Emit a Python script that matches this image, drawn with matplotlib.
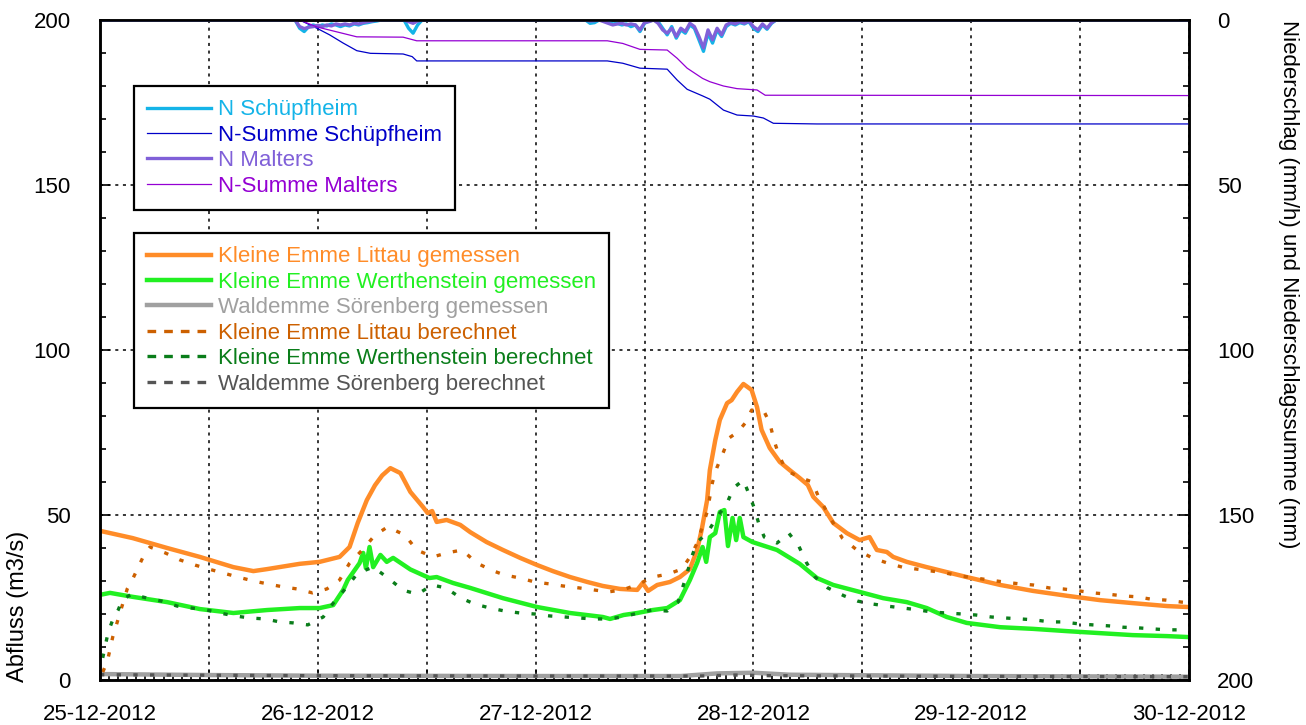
import matplotlib.pyplot as plt
from matplotlib.lines import Line2D
from matplotlib.ticker import MultipleLocator

plt.rcParams['font.family'] = ['Liberation Sans', 'DejaVu Sans']
plt.rcParams['font.size'] = 16

# time axis: hours since 25-12-2012 00:00
date_ticks = [0, 12, 24, 36, 48, 60, 72, 84, 96, 108, 120]
date_labels = ['25-12-2012', '', '26-12-2012', '', '27-12-2012', '',
               '28-12-2012', '', '29-12-2012', '', '30-12-2012']

# Kleine Emme Littau gemessen
littau_gem_h = [0, 3.6, 7.4, 11.0, 14.7, 16.9, 18.4, 22.0, 24.2, 26.4, 27.5, 28.4, 29.4, 30.3,
                31.1, 32.0, 33.1, 34.2, 35.6, 36.1, 36.6, 37.1, 38.2, 39.7, 40.8, 42.6, 44.4,
                46.3, 48.2, 49.9, 51.8, 53.7, 55.4, 57.3, 59.2, 59.8, 60.4, 61.4, 62.8, 63.9,
                65.0, 65.8, 66.3, 66.9, 67.2, 67.8, 68.3, 69.1, 69.6, 70.2, 70.9, 71.8, 72.4,
                72.9, 73.8, 74.9, 76.0, 77.1, 78.0, 78.6, 79.7, 80.8, 82.3, 83.7, 84.8, 85.6,
                86.7, 87.4, 88.9, 91.1, 93.3, 95.5, 99.2, 102.8, 106.6, 110.2, 113.8, 117.6, 120]
littau_gem_q = [45.2, 43.0, 40.0, 37.3, 34.2, 33.0, 33.6, 35.2, 35.8, 37.3, 40.3, 47.6, 54.5, 59.0,
                62.0, 64.2, 62.7, 57.0, 52.4, 50.6, 51.2, 47.9, 48.5, 47.0, 44.8, 41.8, 39.4,
                37.0, 34.8, 33.0, 31.2, 29.7, 28.5, 27.6, 27.3, 29.4, 27.0, 28.8, 29.7, 31.2,
                33.6, 39.4, 45.5, 54.5, 63.6, 72.7, 78.8, 83.9, 84.8, 87.3, 89.7, 87.9, 82.7,
                75.8, 70.3, 66.1, 63.6, 61.2, 59.1, 55.5, 52.4, 47.6, 44.5, 42.4, 43.3, 39.4,
                38.8, 37.3, 35.8, 34.2, 32.7, 31.2, 28.8, 27.0, 25.5, 24.2, 23.3, 22.4, 22.1]

# Kleine Emme Werthenstein gemessen
werth_gem_h = [0, 1.1, 3.6, 7.4, 11.0, 14.7, 18.4, 22.0, 24.2, 25.7, 26.8, 27.3, 28.6, 29.0, 29.3,
               29.7, 30.1, 30.9, 31.6, 32.3, 34.2, 36.3, 37.1, 38.9, 40.8, 44.4, 48.2, 51.8,
               55.4, 56.2, 57.7, 59.2, 60.9, 62.5, 63.9, 65.0, 65.8, 66.4, 66.8, 67.2, 67.8,
               68.3, 68.8, 69.2, 69.7, 70.1, 70.5, 70.9, 71.9, 74.6, 77.1, 79.0, 80.8, 83.7,
               86.3, 88.9, 91.1, 93.3, 95.5, 99.2, 102.8, 106.6, 110.2, 113.8, 117.6, 120]
werth_gem_q = [25.8, 26.4, 25.2, 23.6, 21.5, 20.3, 21.2, 21.8, 21.8, 22.7, 27.3, 30.3, 35.4, 38.5, 33.9,
               40.3, 34.2, 37.9, 35.8, 37.0, 33.5, 30.9, 31.2, 29.4, 27.9, 24.8, 22.1, 20.3,
               19.1, 18.5, 19.7, 20.3, 21.2, 21.8, 24.2, 30.3, 35.5, 40.3, 35.8, 43.3, 44.5,
               50.9, 51.5, 40.6, 49.1, 42.4, 49.1, 43.3, 41.8, 39.4, 35.2, 30.9, 28.8, 26.7,
               24.8, 23.6, 21.8, 19.1, 17.3, 16.0, 15.5, 14.8, 14.2, 13.6, 13.3, 13.0]

# Waldemme Soerenberg gemessen / berechnet
soer_gem_h = [0, 12, 24, 48, 64, 68, 72, 76, 96, 120]
soer_gem_q = [1.8, 1.5, 1.3, 1.2, 1.2, 2.0, 2.2, 1.6, 1.2, 1.0]
soer_ber_h = [0, 24, 48, 66, 70, 74, 96, 120]
soer_ber_q = [1.6, 1.3, 1.2, 1.2, 1.5, 1.3, 1.1, 1.0]

# Kleine Emme Littau berechnet
littau_ber_h = [0.3, 0.8, 1.4, 2.2, 3.0, 3.6, 4.7, 5.5, 7.2, 8.8, 10.5, 12.0, 13.6, 15.2, 16.9,
                18.5, 20.2, 21.7, 23.4, 25.0, 26.4, 27.5, 28.9, 30.3, 31.7, 33.6, 34.9, 36.7,
                38.2, 39.9, 41.5, 43.1, 44.6, 46.3, 47.9, 49.6, 51.0, 52.8, 54.4, 56.0, 57.6,
                59.4, 60.9, 62.6, 64.1, 65.1, 65.8, 66.9, 67.5, 68.0, 68.7, 69.3, 70.3, 71.2,
                71.8, 73.2, 73.8, 74.3, 74.8, 75.6, 77.0, 78.5, 79.1, 80.4, 81.8, 83.4, 85.1,
                86.7, 88.4, 90.0, 91.7, 93.2, 94.9, 96.5, 98.0, 99.6, 101.4, 102.8, 104.6,
                106.1, 107.9, 109.4, 111.1, 112.7, 114.3, 115.8, 117.5, 119.2, 120]
littau_ber_q = [2.4, 5.5, 13.0, 20.3, 27.6, 30.6, 37.0, 40.3, 38.5, 36.4, 34.8, 33.6, 32.4, 31.2, 30.0,
                29.1, 28.2, 27.6, 26.4, 27.6, 30.3, 35.4, 39.4, 43.9, 46.4, 43.9, 39.4, 37.3,
                38.5, 39.4, 35.5, 33.3, 31.8, 30.9, 29.7, 29.1, 28.5, 27.9, 27.3, 26.7, 27.3,
                29.1, 31.2, 32.1, 33.6, 37.6, 41.5, 50.9, 60.0, 64.5, 69.1, 73.3, 75.2, 78.2,
                81.8, 81.2, 77.9, 72.4, 68.2, 63.6, 61.5, 60.0, 56.0, 49.4, 43.0, 39.4, 37.0,
                35.5, 34.2, 33.6, 33.0, 32.4, 31.5, 30.9, 30.3, 29.7, 29.1, 28.8, 27.9,
                27.6, 27.0, 26.4, 26.0, 25.5, 25.2, 24.5, 24.2, 23.6, 23.4]

# Kleine Emme Werthenstein berechnet
werth_ber_h = [0.3, 0.6, 0.9, 1.4, 2.0, 2.5, 3.5, 5.2, 6.8, 8.5, 10.1, 11.8, 13.2, 14.9, 16.5,
               18.2, 19.8, 21.3, 22.9, 24.6, 25.7, 27.2, 28.4, 30.1, 31.7, 33.4, 35.0, 36.6,
               38.1, 39.8, 41.3, 43.0, 44.6, 46.3, 47.9, 49.6, 51.2, 52.8, 54.3, 56.0, 57.6,
               59.3, 60.8, 62.5, 63.7, 64.7, 65.2, 65.8, 66.9, 68.0, 69.1, 69.8, 70.9, 71.5,
               72.1, 72.6, 73.2, 74.6, 75.9, 77.0, 77.8, 78.8, 80.2, 82.0, 83.5, 85.2, 86.7,
               88.5, 90.0, 91.7, 93.3, 95.0, 96.5, 98.2, 99.7, 101.5, 103.0, 104.7, 106.1,
               107.9, 109.4, 111.2, 112.7, 114.4, 115.9, 117.6, 119.2, 120]
werth_ber_q = [6.7, 10.6, 14.5, 18.2, 21.2, 24.5, 26.0, 24.8, 23.9, 22.4, 21.8, 21.2, 20.3, 19.4, 18.8,
               18.5, 17.6, 17.3, 16.7, 19.1, 23.3, 28.2, 32.4, 34.2, 31.0, 27.2, 26.0, 28.8,
               27.9, 24.8, 23.0, 21.8, 20.9, 20.3, 20.0, 19.4, 19.1, 18.8, 18.5, 18.5, 19.1,
               20.3, 21.2, 20.9, 23.6, 32.4, 37.3, 41.8, 44.5, 49.4, 53.6, 58.2, 60.6, 56.4,
               52.1, 47.3, 43.3, 41.5, 44.5, 40.6, 35.8, 31.2, 27.9, 25.5, 23.9, 23.0, 22.4,
               21.8, 21.3, 20.6, 20.3, 20.0, 19.7, 19.1, 18.8, 18.5, 18.2, 17.6, 17.6,
               17.0, 16.7, 16.4, 16.0, 15.8, 15.5, 15.2, 15.2, 15.1]

# Niederschlag (mm/h), half-hourly during the rain periods
n_h = [0, 21.5, 22, 22.5, 23, 23.5, 24, 24.5, 25, 25.5, 26, 26.5, 27, 27.5, 28, 28.5, 29, 29.5,
       30, 30.5, 31, 31.5, 33.5, 34, 34.5, 35, 35.5,
       53.5, 54, 54.5, 55, 55.5, 56, 56.5, 57, 57.5, 58, 58.5, 59, 59.5, 60, 60.5, 61, 61.5,
       62, 62.5, 63, 63.5, 64, 64.5, 65, 65.5, 66, 66.5, 67, 67.5, 68, 68.5, 69, 69.5, 70,
       70.5, 71, 71.5, 72, 72.5, 73, 73.5, 74, 74.5, 120]
n_schuepfheim = [0, 0, 2.5, 3.5, 2.0, 1.5, 2.0, 1.5, 1.8, 1.2, 1.5, 2.0, 1.5, 1.8, 1.2, 1.5, 1.0, 0.8,
                 0.5, 0.3, 0, 0, 0, 2.5, 4.0, 1.5, 0,
                 0, 1.0, 0.8, 0, 0, 0.5, 1.2, 1.0, 1.5, 1.2, 2.0, 1.5, 3.5, 1.0, 0.3, 0, 0.5,
                 2.5, 4.5, 2.0, 5.5, 3.0, 4.0, 1.5, 2.5, 6.0, 9.5, 4.0, 7.0, 3.0, 5.0, 2.0, 1.0, 1.5,
                 0.8, 1.2, 0.5, 2.5, 3.5, 1.5, 2.8, 1.0, 0, 0]
n_malters = [0, 0, 2.0, 2.6, 2.2, 2.0, 1.6, 2.0, 1.5, 1.8, 1.2, 1.5, 1.2, 1.5, 1.0, 1.2, 0.8, 0.5,
             0.3, 0, 0, 0, 0, 0.5, 1.0, 0.3, 0,
             0, 0.3, 0.2, 0, 0.5, 1.0, 1.5, 1.2, 1.0, 1.5, 1.2, 1.5, 3.0, 0.8, 0.5, 0, 1.0,
             3.0, 4.0, 2.5, 5.0, 2.5, 3.5, 1.0, 2.0, 5.0, 8.5, 3.0, 6.0, 2.5, 4.5, 1.5, 0.8, 1.2,
             0.5, 1.0, 0.3, 2.0, 3.0, 1.2, 2.5, 0.8, 0, 0]

# Niederschlagssumme (mm)
nsum_schuepf_h = [0, 22, 23.9, 25.3, 26.8, 28.3, 29.8, 33.4, 34.4, 34.9, 55.9, 57.6, 59.5, 62.5,
                  63.6, 64.7, 66.4, 67.2, 68.7, 70.2, 72.0, 73.1, 74.2, 79.0, 120]
nsum_schuepf = [0, 0, 2.5, 4.5, 7.0, 9.3, 10.1, 10.3, 11.1, 12.4, 12.4, 13.1, 14.6, 14.9,
                18.2, 21.0, 23.0, 24.0, 27.3, 28.8, 29.1, 29.7, 31.3, 31.5, 31.5]
nsum_malters_h = [0, 22, 23.9, 28.3, 33.4, 34.9, 55.9, 57.6, 59.5, 62.5, 63.6, 64.7, 66.4, 67.2,
                  68.7, 70.2, 72.4, 73.3, 120]
nsum_malters = [0, 0, 2.1, 5.1, 5.2, 6.3, 6.3, 7.1, 8.9, 9.1, 11.6, 14.6, 17.7, 18.7,
                20.0, 20.8, 21.2, 22.8, 22.9]

W, H = 1306, 725
fig = plt.figure(figsize=(W / 100, H / 100), dpi=100)
ax = fig.add_axes([100 / W, 45 / H, 1089 / W, 660 / H])
ax2 = ax.twinx()

dots = (0, (1.3, 3.7))
c_lg, c_wg, c_sg = '#ff8c28', '#22f022', '#a0a0a0'
c_lb, c_wb, c_sb = '#cc6000', '#0a7d1a', '#555555'

ax.plot(littau_gem_h, littau_gem_q, color=c_lg, lw=3.2)
ax.plot(werth_gem_h, werth_gem_q, color=c_wg, lw=3.2)
ax.plot(soer_gem_h, soer_gem_q, color=c_sg, lw=3.2)
ax.plot(littau_ber_h, littau_ber_q, color=c_lb, lw=2.4, ls=dots)
ax.plot(werth_ber_h, werth_ber_q, color=c_wb, lw=2.4, ls=dots)
ax.plot(soer_ber_h, soer_ber_q, color=c_sb, lw=2.4, ls=dots)

p1, = ax2.plot(n_h, n_schuepfheim, color='#14b4e8', lw=2.4, label='N Schüpfheim')
p2, = ax2.plot(nsum_schuepf_h, nsum_schuepf, color='#0000c8', lw=0.9,
               label='N-Summe Schüpfheim')
p3, = ax2.plot(n_h, n_malters, color='#8060d8', lw=2.4, label='N Malters')
p4, = ax2.plot(nsum_malters_h, nsum_malters, color='#9400d3', lw=0.9,
               label='N-Summe Malters')

# key entries (dashes in the key are longer than in the plot)
key_dash = (0, (2.6, 2.4))
q_handles = [
    Line2D([], [], color=c_lg, lw=3.2, label='Kleine Emme Littau gemessen'),
    Line2D([], [], color=c_wg, lw=3.2, label='Kleine Emme Werthenstein gemessen'),
    Line2D([], [], color=c_sg, lw=3.2, label='Waldemme Sörenberg gemessen'),
    Line2D([], [], color=c_lb, lw=2.4, ls=key_dash, label='Kleine Emme Littau berechnet'),
    Line2D([], [], color=c_wb, lw=2.4, ls=key_dash, label='Kleine Emme Werthenstein berechnet'),
    Line2D([], [], color=c_sb, lw=2.4, ls=key_dash, label='Waldemme Sörenberg berechnet'),
]

ax.set_xlim(0, 120)
ax.set_ylim(0, 200)
ax2.set_ylim(200, 0)

ax.set_xticks(date_ticks)
ax.set_xticklabels(date_labels)
ax.xaxis.set_minor_locator(MultipleLocator(1))
ax.yaxis.set_major_locator(MultipleLocator(50))
ax.yaxis.set_minor_locator(MultipleLocator(10))
ax2.yaxis.set_major_locator(MultipleLocator(50))
ax2.yaxis.set_minor_locator(MultipleLocator(10))

ax.tick_params(axis='both', which='major', direction='in', length=7, width=1.2)
ax.tick_params(axis='both', which='minor', direction='in', length=4, width=1.2)
ax.tick_params(axis='y', which='major', pad=21)
ax.tick_params(axis='x', which='major', pad=17)
ax2.tick_params(axis='y', which='major', direction='in', length=7, width=1.2, pad=20)
ax2.tick_params(axis='y', which='minor', direction='in', length=4, width=1.2)

ax.grid(True, which='major', color='black', lw=1.1, ls=(0, (2, 3)))

for a in (ax, ax2):
    for s in a.spines.values():
        s.set_linewidth(1.8)

fig.text(18 / W, 1 - 682 / H, 'Abfluss (m3/s)', rotation=90, ha='center', va='bottom',
         fontsize=17)
fig.text(1288 / W, 1 - 20 / H, 'Niederschlag (mm/h) und Niederschlagssumme (mm)',
         rotation=270, ha='center', va='top')

leg_kw = dict(loc='upper left', bbox_transform=fig.transFigure, borderaxespad=0,
              fancybox=False, framealpha=1, edgecolor='black', labelcolor='linecolor',
              handlelength=2.85, handletextpad=0.32, labelspacing=0.2, borderpad=0.6,
              fontsize=16)
leg1 = ax2.legend(handles=[p1, p2, p3, p4], bbox_to_anchor=(134 / W, 1 - 86 / H), **leg_kw)
leg1.get_frame().set_linewidth(1.6)
ax2.add_artist(leg1)
leg2 = ax2.legend(handles=q_handles, bbox_to_anchor=(134 / W, 1 - 233 / H), **leg_kw)
leg2.get_frame().set_linewidth(1.6)

fig.savefig('out.png', dpi=100)
